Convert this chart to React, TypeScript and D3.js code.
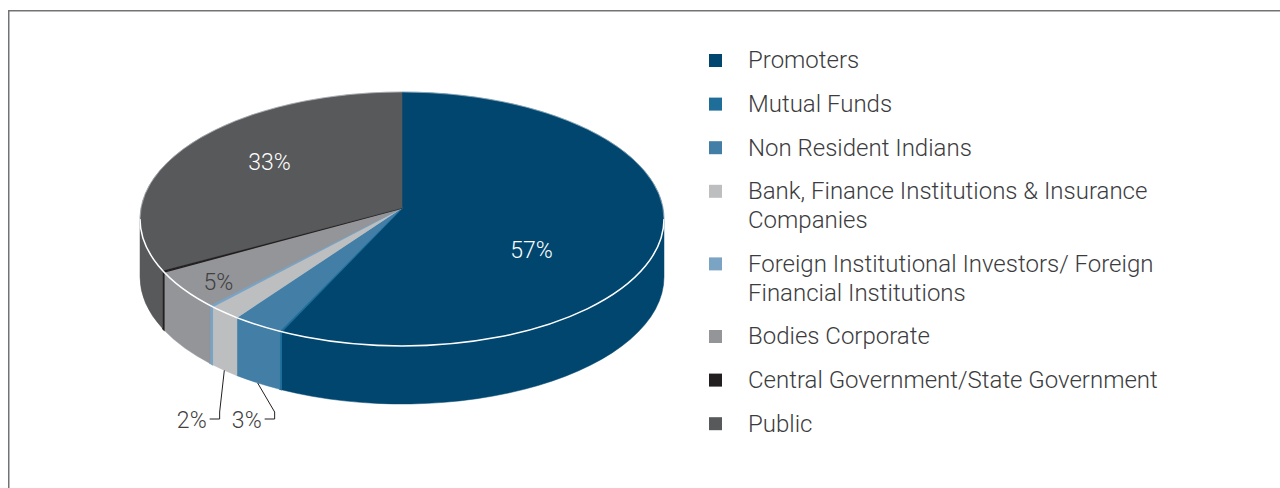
import * as d3 from "d3";

const categories = [
  "Promoters",
  "Mutual Funds",
  "Non Resident Indians",
  "Bank, Finance Institutions & Insurance Companies",
  "Foreign Institutional Investors/ Foreign Financial Institutions",
  "Bodies Corporate",
  "Central Government/State Government",
  "Public",
];
const shares = [57.0, 0.1, 2.9, 1.9, 0.2, 4.8, 0.2, 32.9];
const colors = [
  "#00466f",
  "#1e6e99",
  "#427ea6",
  "#bcbec0",
  "#7aa3c4",
  "#939598",
  "#231f20",
  "#58595b",
];
// which labels sit inside the slice (white or dark text), small ones go out on leaders
const insideLabelColor = ["#ffffff", "", "", "", "", "#414042", "", "#ffffff"];
const labelNudge: Record<string, [number, number]> = {
  Promoters: [-12, 27],
  Public: [-12, -11],
  "Bodies Corporate": [0, 5],
};

const W = 1280;
const H = 488;
const cx = 402;
const cy = 219;
const rx = 262;
const ry = 127;
const depth = 58;
const beta = -0.087; // perspective tilt: circle centre sits above the ellipse centre
const font = "Roboto, 'Noto Sans', sans-serif";

// map an angle on the flat disc (0 = 12 o'clock, clockwise) to the screen
const project = (theta: number, f = 1) => {
  const u0 = f * Math.sin(theta);
  const v0 = -f * Math.cos(theta);
  const d = 1 + beta * v0;
  const u = (u0 * Math.sqrt(1 - beta * beta)) / d;
  const v = (v0 + beta) / d;
  return { x: cx + rx * u, y: cy + ry * v, phi: Math.atan2(u, -v) };
};
const ell = (phi: number, dy = 0) =>
  `${cx + rx * Math.sin(phi)},${cy - ry * Math.cos(phi) + dy}`;
const norm = (a: number) => {
  let r = a % (2 * Math.PI);
  if (r < 0) r += 2 * Math.PI;
  return r;
};

function wrap(text: string, max: number) {
  const words = text.split(" ");
  const lines: string[] = [];
  let cur = "";
  words.forEach((w) => {
    const t = cur ? cur + " " + w : w;
    if (t.length > max && cur) {
      lines.push(cur);
      cur = w;
    } else cur = t;
  });
  if (cur) lines.push(cur);
  return lines;
}

export default function App() {
  const arcs = d3
    .pie<number>()
    .sort(null)
    .value((d) => d)
    .startAngle(0)
    .endAngle(2 * Math.PI)(shares);

  const apex = project(0, 0);

  const slices = arcs.map((a, i) => {
    const pa = project(a.startAngle);
    const pb = project(a.endAngle);
    const phiA = a.startAngle === 0 ? 0 : norm(pa.phi);
    const phiB = a.endAngle >= 2 * Math.PI - 1e-9 ? 2 * Math.PI : norm(pb.phi);
    const large = phiB - phiA > Math.PI ? 1 : 0;
    const top = `M${apex.x},${apex.y} L${ell(phiA)} A${rx},${ry} 0 ${large} 1 ${ell(
      phiB
    )} Z`;
    const s = Math.max(phiA, Math.PI / 2);
    const e = Math.min(phiB, (3 * Math.PI) / 2);
    const side =
      e > s
        ? `M${ell(s)} A${rx},${ry} 0 0 1 ${ell(e)} L${ell(e, depth)} A${rx},${ry} 0 0 0 ${ell(
            s,
            depth
          )} Z`
        : null;
    return { i, top, side, mid: (a.startAngle + a.endAngle) / 2, value: a.data };
  });

  // inside labels
  const inside = slices
    .filter((s) => insideLabelColor[s.i] && Math.round(s.value) >= 1)
    .map((s) => {
      const f = s.value > 20 ? 0.55 : 0.85;
      const p = project(s.mid, f);
      const n = labelNudge[categories[s.i]] || [0, 0];
      return { ...s, x: p.x + n[0], y: p.y + n[1] };
    });

  // outside labels, placed right to left under the pie
  const labelY = cy + ry + depth + 15;
  const labelW = 30;
  let prevStart = Infinity;
  const outside = slices
    .filter((s) => !insideLabelColor[s.i] && Math.round(s.value) >= 1)
    .sort((a, b) => a.mid - b.mid)
    .map((s) => {
      const p = project(s.mid);
      const phi = norm(p.phi);
      const anchor = { x: cx + rx * Math.sin(phi), y: cy - ry * Math.cos(phi) + depth };
      const end = Math.min(anchor.x + 4, prevStart - 25);
      prevStart = end - labelW;
      const lx = end + 13;
      const pts: [number, number][] = [
        [anchor.x, anchor.y],
        [lx, labelY - 7],
        [lx, labelY],
        [end + 3, labelY],
      ];
      return { ...s, end, pts };
    });

  // legend rows
  let ly = 60;
  const legend = categories.map((c, i) => {
    const lines = wrap(c, 40);
    const row = { c, i, y: ly, lines };
    ly += (lines.length - 1) * 29 + 43.6;
    return row;
  });

  const line = d3.line();

  return (
    <svg
      width={W}
      height={H}
      style={{ position: "absolute", left: 0, top: 0, background: "#fff" }}
    >
      <rect
        x={8.75}
        y={10.75}
        width={1400}
        height={600}
        fill="none"
        stroke="#727376"
        strokeWidth={1.5}
      />

      {slices.map((s) =>
        s.side ? (
          <path
            key={"side" + s.i}
            d={s.side}
            fill={colors[s.i]}
            stroke={colors[s.i]}
            strokeWidth={s.value < 1 ? 1.2 : 0.5}
          />
        ) : null
      )}
      {slices.map((s) => (
        <path
          key={"top" + s.i}
          d={s.top}
          fill={colors[s.i]}
          stroke={colors[s.i]}
          strokeWidth={s.value < 1 ? 1.4 : 0.5}
          strokeLinejoin="round"
        />
      ))}
      <path
        d={`M${ell(Math.PI / 2)} A${rx},${ry} 0 0 1 ${ell((3 * Math.PI) / 2)}`}
        fill="none"
        stroke="#ffffff"
        strokeWidth={1.5}
      />
      <path
        d={`M${ell((3 * Math.PI) / 2)} A${rx},${ry} 0 0 1 ${ell(Math.PI / 2)}`}
        fill="none"
        stroke="#c9d2db"
        strokeOpacity={0.5}
        strokeWidth={1}
      />

      {inside.map((s) => (
        <text
          key={"in" + s.i}
          x={s.x}
          y={s.y}
          dy="0.35em"
          textAnchor="middle"
          fontFamily={font}
          fontWeight={300}
          fontSize={23}
          fill={insideLabelColor[s.i]}
        >
          {Math.round(s.value)}%
        </text>
      ))}

      {outside.map((s) => (
        <g key={"out" + s.i}>
          <path d={line(s.pts) || ""} fill="none" stroke="#231f20" strokeWidth={1} />
          <text
            x={s.end}
            y={labelY + 1}
            dy="0.35em"
            textAnchor="end"
            fontFamily={font}
            fontWeight={300}
            fontSize={23}
            fill="#414042"
          >
            {Math.round(s.value)}%
          </text>
        </g>
      ))}

      {legend.map((r) => (
        <g key={"lg" + r.i}>
          <rect x={709} y={r.y - 6} width={13} height={13} fill={colors[r.i]} />
          <text
            x={748}
            y={r.y}
            fontFamily={font}
            fontWeight={300}
            fontSize={24}
            fill="#3c3c3e"
          >
            {r.lines.map((t, k) => (
              <tspan key={k} x={748} dy={k === 0 ? "0.35em" : 29}>
                {t}
              </tspan>
            ))}
          </text>
        </g>
      ))}
    </svg>
  );
}
